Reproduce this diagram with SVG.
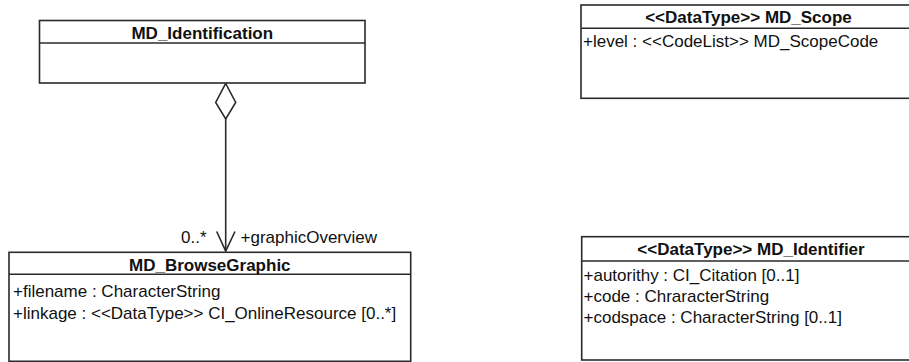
<svg xmlns="http://www.w3.org/2000/svg" width="909" height="362" viewBox="0 0 909 362">
<style>
.box{fill:#fff;stroke:#2a2a2a;stroke-width:1.6}
.sep{stroke:#2a2a2a;stroke-width:1.6}
.title{font-family:"Liberation Sans",Arial,sans-serif;font-size:17px;font-weight:bold;fill:#111;text-anchor:middle}
.attr{font-family:"Liberation Sans",Arial,sans-serif;font-size:17px;fill:#111}
.conn{fill:none;stroke:#2a2a2a;stroke-width:1.6}
</style>
<rect width="909" height="362" fill="#fff"/>
<g id="connectors">
<polygon class="conn" points="225.7,83.5 235.7,102.5 225.7,119 215.7,102.5" style="fill:#fff"/>
<line class="conn" x1="225.7" y1="119" x2="225.7" y2="251"/>
<polyline class="conn" points="216.7,231.5 225.7,251 235,231.5"/>
<text class="attr" x="181" y="242.5">0..*</text>
<text class="attr" x="240.5" y="242.5">+graphicOverview</text>
</g>
<g id="MD_Identification">
<rect class="box" x="39.5" y="20.5" width="325.5" height="62.5"/>
<line class="sep" x1="39.5" y1="43" x2="365" y2="43"/>
<text class="title" x="202.3" y="39.3">MD_Identification</text>
</g>
<g id="MD_BrowseGraphic">
<rect class="box" x="9" y="252.3" width="401.7" height="109"/>
<line class="sep" x1="9" y1="274.3" x2="410.7" y2="274.3"/>
<text class="title" x="209.8" y="270.5">MD_BrowseGraphic</text>
<text class="attr" x="13" y="297">+filename : CharacterString</text>
<text class="attr" x="13" y="318.5">+linkage : &lt;&lt;DataType&gt;&gt; CI_OnlineResource [0..*]</text>
</g>
<g id="MD_Scope">
<rect class="box" x="581" y="5" width="336" height="93.3"/>
<line class="sep" x1="581" y1="28.3" x2="917" y2="28.3"/>
<text class="title" x="748.5" y="23">&lt;&lt;DataType&gt;&gt; MD_Scope</text>
<text class="attr" x="583" y="47">+level : &lt;&lt;CodeList&gt;&gt; MD_ScopeCode</text>
</g>
<g id="MD_Identifier">
<rect class="box" x="581.7" y="236.7" width="340" height="123.3"/>
<line class="sep" x1="581.7" y1="261" x2="921.7" y2="261"/>
<text class="title" x="751" y="255">&lt;&lt;DataType&gt;&gt; MD_Identifier</text>
<text class="attr" x="583.5" y="280.5">+autorithy : CI_Citation [0..1]</text>
<text class="attr" x="583.5" y="301.5">+code : ChraracterString</text>
<text class="attr" x="583.5" y="322.5">+codspace : CharacterString [0..1]</text>
</g>
</svg>
